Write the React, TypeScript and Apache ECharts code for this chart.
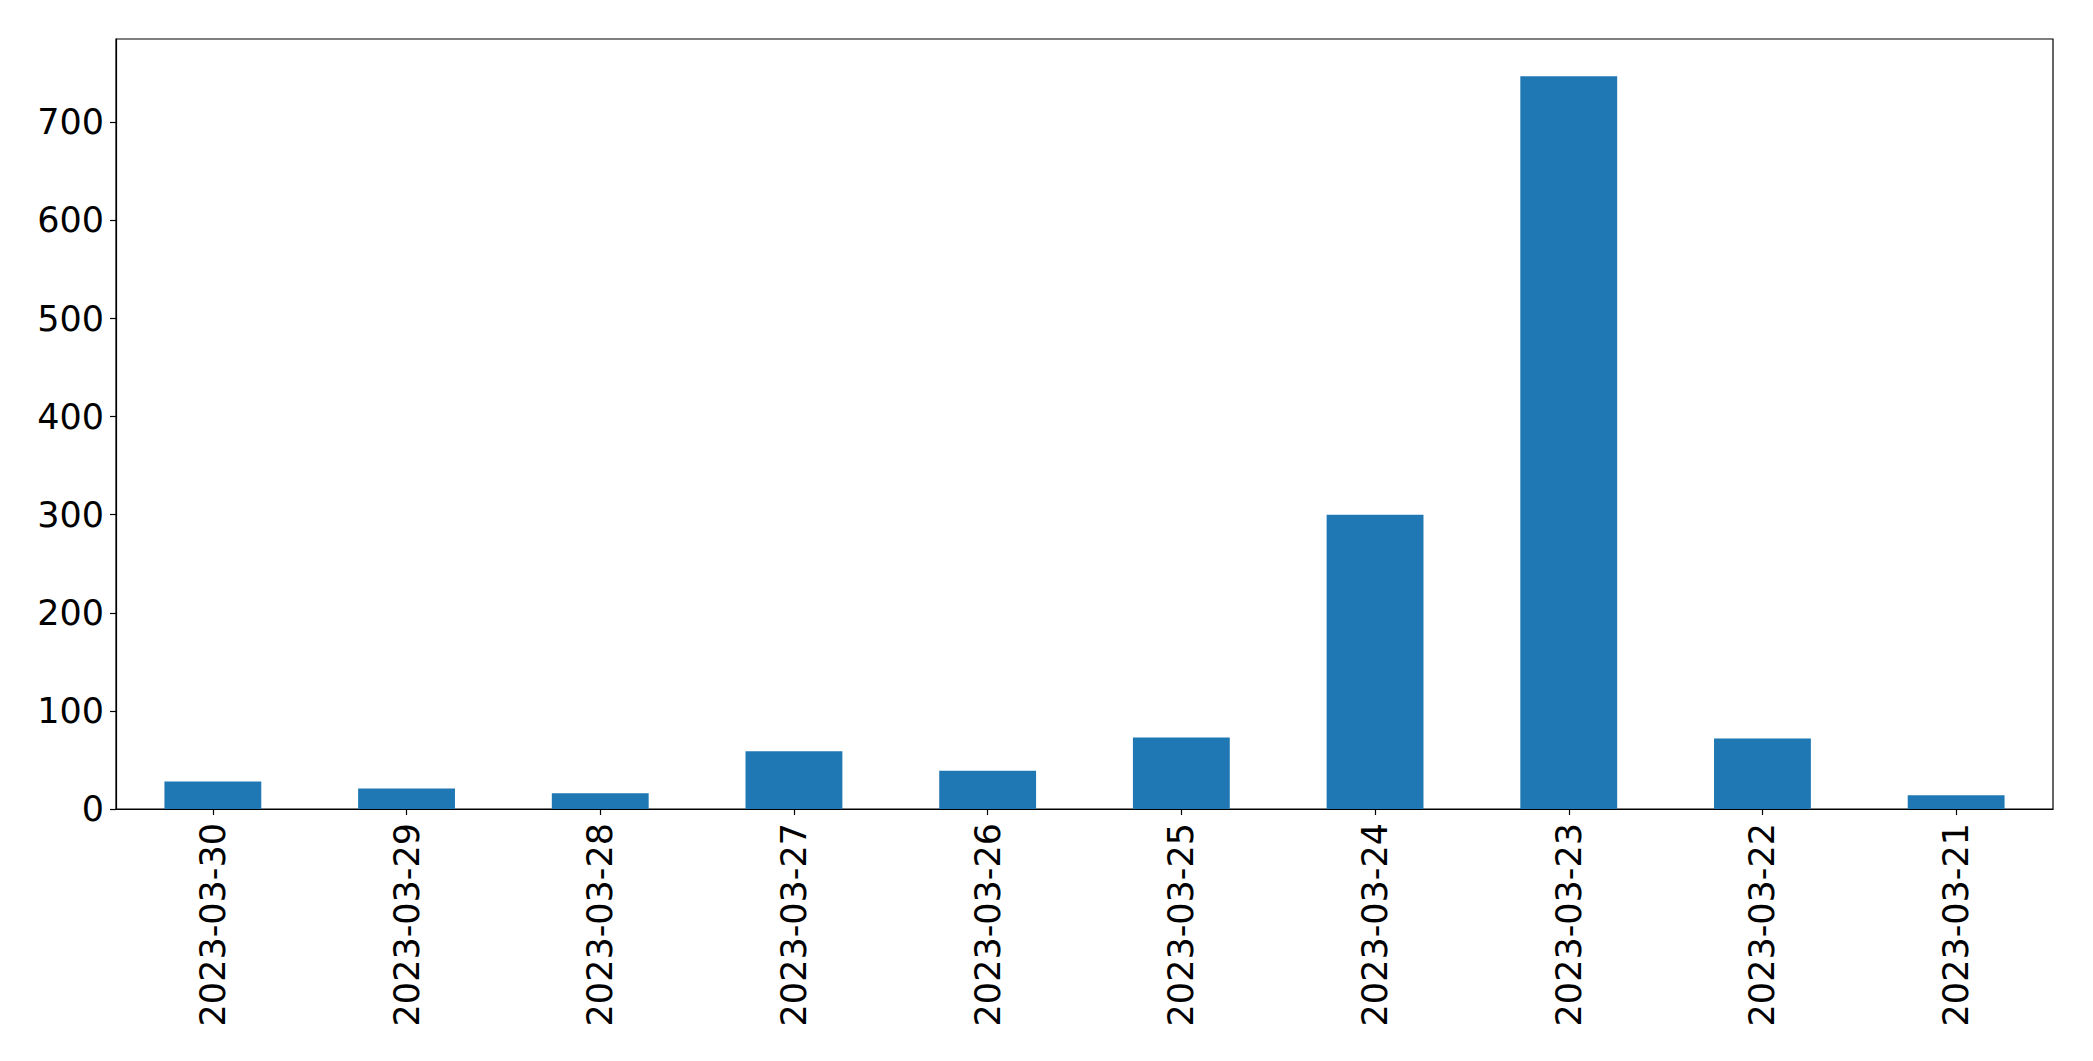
import React, { useEffect, useRef } from "react";
import * as echarts from "echarts";

const categories = [
  "2023-03-30",
  "2023-03-29",
  "2023-03-28",
  "2023-03-27",
  "2023-03-26",
  "2023-03-25",
  "2023-03-24",
  "2023-03-23",
  "2023-03-22",
  "2023-03-21",
];
const values = [28, 21, 16, 59, 39, 73, 300, 747, 72, 14];
const yTicks = [0, 100, 200, 300, 400, 500, 600, 700];

export default function App() {
  const ref = useRef<HTMLDivElement>(null);
  useEffect(() => {
    document.body.style.margin = "0";
    const chart = echarts.init(ref.current!, null, { renderer: "svg" });
    const font = "DejaVu Sans";
    chart.setOption({
      animation: false,
      backgroundColor: "#ffffff",
      grid: {
        left: 116,
        top: 39,
        width: 1937,
        height: 770,
        show: true,
        borderColor: "#000",
        borderWidth: 1.2,
        containLabel: false,
      },
      xAxis: {
        type: "category",
        data: categories,
        axisLine: { show: true, lineStyle: { color: "#000", width: 1.2 } },
        axisTick: { show: true, alignWithLabel: true, length: 6, lineStyle: { color: "#000", width: 1.2 } },
        axisLabel: {
          rotate: 90,
          fontSize: 35,
          fontFamily: font,
          color: "#000",
          margin: 14,
          interval: 0,
        },
        splitLine: { show: false },
      },
      yAxis: {
        type: "value",
        min: 0,
        max: 785,
        interval: 100,
        axisLine: { show: true, lineStyle: { color: "#000", width: 1.2 } },
        axisTick: { show: true, length: 6, lineStyle: { color: "#000", width: 1.2 }, customValues: yTicks },
        axisLabel: {
          fontSize: 35,
          fontFamily: font,
          color: "#000",
          margin: 12,
          customValues: yTicks,
        },
        splitLine: { show: false },
      },
      series: [
        {
          type: "bar",
          data: values,
          barWidth: "50%",
          itemStyle: { color: "#1f77b4" },
        },
      ],
    });
    return () => chart.dispose();
  }, []);
  return <div ref={ref} style={{ width: 2093, height: 1061 }} />;
}
